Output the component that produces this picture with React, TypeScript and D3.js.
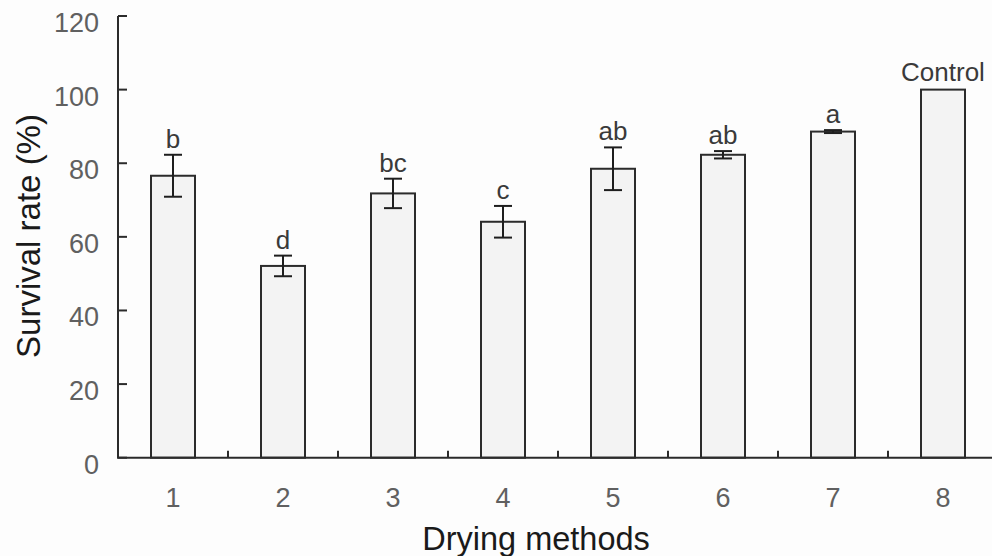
import React, { useEffect, useRef } from 'react';
import * as d3 from 'd3';

// values
const methods = ['1', '2', '3', '4', '5', '6', '7', '8'];
const survival = [76.6, 52.1, 71.8, 64.1, 78.5, 82.3, 88.6, 100];
const errors = [5.7, 2.8, 4.0, 4.3, 5.8, 1.0, 0.4, 0];
const letters = ['b', 'd', 'bc', 'c', 'ab', 'ab', 'a', 'Control'];
const yTicks = [0, 20, 40, 60, 80, 100, 120];

const W = 992;
const H = 556;

function SurvivalChart() {
  const svgRef = useRef<SVGSVGElement>(null);

  useEffect(() => {
    const svg = d3.select(svgRef.current);
    svg.selectAll('*').remove();

    const x = d3.scaleBand().domain(methods).range([118, 998]).paddingInner(0.6).paddingOuter(0.3);
    const y = d3.scaleLinear().domain([0, 120]).range([457.7, 16]);
    const font = 'Arial, "Liberation Sans", sans-serif';

    svg.append('rect').attr('width', W).attr('height', H).attr('fill', '#fdfdfd');

    // bars
    svg
      .selectAll('.bar')
      .data(survival)
      .enter()
      .append('rect')
      .attr('class', 'bar')
      .attr('x', (d, i) => x(methods[i]))
      .attr('y', (d) => y(d))
      .attr('width', x.bandwidth())
      .attr('height', (d) => y(0) - y(d))
      .attr('fill', '#f3f3f3')
      .attr('stroke', '#2b2b2b')
      .attr('stroke-width', 2);

    // error bars
    const eb = svg
      .selectAll('.err')
      .data(survival.map((v, i) => ({ v, e: errors[i], m: methods[i] })).filter((d) => d.e > 0))
      .enter()
      .append('g')
      .attr('class', 'err')
      .attr('stroke', '#1e1e1e')
      .attr('stroke-width', 2);
    const cx = (m: string) => (x(m) as number) + x.bandwidth() / 2;
    eb.append('line')
      .attr('x1', (d) => cx(d.m))
      .attr('x2', (d) => cx(d.m))
      .attr('y1', (d) => y(d.v + d.e))
      .attr('y2', (d) => y(d.v - d.e));
    eb.append('line')
      .attr('x1', (d) => cx(d.m) - 9)
      .attr('x2', (d) => cx(d.m) + 9)
      .attr('y1', (d) => y(d.v + d.e))
      .attr('y2', (d) => y(d.v + d.e));
    eb.append('line')
      .attr('x1', (d) => cx(d.m) - 9)
      .attr('x2', (d) => cx(d.m) + 9)
      .attr('y1', (d) => y(d.v - d.e))
      .attr('y2', (d) => y(d.v - d.e));

    // significance letters
    svg
      .selectAll('.lbl')
      .data(letters)
      .enter()
      .append('text')
      .attr('class', 'lbl')
      .attr('x', (d, i) => cx(methods[i]))
      .attr('y', (d, i) => y(survival[i] + errors[i]) - (i === 7 ? 9 : 7))
      .attr('text-anchor', 'middle')
      .attr('font-family', font)
      .attr('font-size', '26px')
      .attr('fill', '#3a3a3a')
      .text((d) => d);

    // axes
    svg
      .append('line')
      .attr('x1', 118)
      .attr('x2', 118)
      .attr('y1', y(120))
      .attr('y2', y(0))
      .attr('stroke', '#2b2b2b')
      .attr('stroke-width', 2);
    svg
      .append('line')
      .attr('x1', 117)
      .attr('x2', W)
      .attr('y1', y(0))
      .attr('y2', y(0))
      .attr('stroke', '#2b2b2b')
      .attr('stroke-width', 2);

    svg
      .selectAll('.ytick')
      .data(yTicks)
      .enter()
      .append('line')
      .attr('x1', 118)
      .attr('x2', 127)
      .attr('y1', (d) => y(d))
      .attr('y2', (d) => y(d))
      .attr('stroke', '#2b2b2b')
      .attr('stroke-width', 2);
    svg
      .selectAll('.ylab')
      .data(yTicks)
      .enter()
      .append('text')
      .attr('x', 99)
      .attr('y', (d) => y(d) + 16)
      .attr('text-anchor', 'end')
      .attr('font-family', font)
      .attr('font-size', '27px')
      .attr('fill', '#606060')
      .text((d) => d);

    // category boundary ticks
    svg
      .selectAll('.xtick')
      .data(methods.slice(1))
      .enter()
      .append('line')
      .attr('x1', (d) => (x(d) as number) - x.step() * 0.3)
      .attr('x2', (d) => (x(d) as number) - x.step() * 0.3)
      .attr('y1', y(0))
      .attr('y2', y(0) - 7)
      .attr('stroke', '#2b2b2b')
      .attr('stroke-width', 2);
    svg
      .selectAll('.xlab')
      .data(methods)
      .enter()
      .append('text')
      .attr('x', (d) => cx(d))
      .attr('y', 507)
      .attr('text-anchor', 'middle')
      .attr('font-family', font)
      .attr('font-size', '27px')
      .attr('fill', '#606060')
      .text((d) => d);

    svg
      .append('text')
      .attr('x', 536)
      .attr('y', 550)
      .attr('text-anchor', 'middle')
      .attr('font-family', font)
      .attr('font-size', '32.5px')
      .attr('fill', '#1a1a1a')
      .text('Drying methods');
    svg
      .append('text')
      .attr('transform', 'translate(40,236) rotate(-90)')
      .attr('text-anchor', 'middle')
      .attr('font-family', font)
      .attr('font-size', '33px')
      .attr('fill', '#1a1a1a')
      .text('Survival rate (%)');
  }, []);

  return <svg ref={svgRef} width={W} height={H} style={{ position: 'absolute', left: 0, top: 0 }}></svg>;
}

export default function App() {
  return <SurvivalChart />;
}
